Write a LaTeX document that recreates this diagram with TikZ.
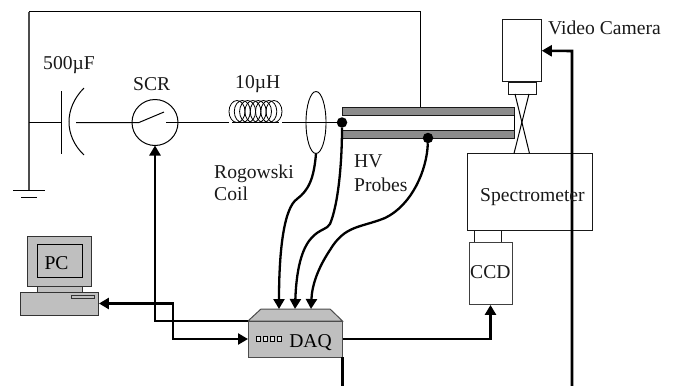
\documentclass[tikz,border=0pt]{standalone}
\usepackage{fontspec}
\setmainfont{Liberation Serif}
\usetikzlibrary{arrows.meta,shapes.geometric}
\tikzset{
  x=1pt,y=-1pt,
  wire/.style={line width=1pt,black},
  heavy/.style={line width=2.6pt,black,line join=miter},
  tip/.style={-{Triangle[length=10pt,width=11pt]}},
  twotip/.style={{Triangle[length=10pt,width=11pt]}-{Triangle[length=10pt,width=11pt]}},
  probe/.style={line width=2.3pt,black,-{Triangle[length=10pt,width=11pt]}},
  lbl/.style={inner sep=0pt,font=\fontsize{19.6}{22}\selectfont,text=black!90,anchor=base west},
  box/.style={draw=black!90,line width=1pt,inner sep=0pt,outer sep=0pt,minimum width=#1},
  box/.default=10pt,
  graybox/.style={draw=black!80,line width=1pt,fill=black!25,inner sep=0pt,outer sep=0pt},
  plate/.style={draw=black!90,line width=1pt,fill=black!45},
  dot/.style={circle,fill=black,inner sep=0pt,minimum size=10.5pt,outer sep=0pt}
}
\begin{document}
\begin{tikzpicture}
\useasboundingbox (0,0) rectangle (673,386);

% --- coordinates
\coordinate (gnd) at (29,189.5);
\coordinate (topL) at (29,11.5);
\coordinate (topR) at (420.5,11.5);
\coordinate (tap) at (420.5,107);
\coordinate (busL) at (29,122.5);
\coordinate (capL) at (61,122.5);
\coordinate (capR) at (76,122.5);
\coordinate (coilL) at (229,122.5);
\coordinate (coilR) at (282,122.5);
\coordinate (daqTL) at (248,321);
\coordinate (daqEast) at (342.5,339);
\coordinate (daqDown) at (342.5,386);
\coordinate (camDown) at (572,386);

% --- power circuit
\draw[wire,line width=1.3pt,black!70] (gnd) -- (topL);
\draw[wire] (topL) -- (topR) -- (tap);
\draw[wire] (busL) -- (capL);
\draw[wire] (61.5,91) -- (61.5,154);
\draw[wire] (84,88) .. controls (64,108) and (64,136) .. (84,155);
\draw[wire] (13,190.5) -- (45,190.5);
\draw[wire] (21,197.5) -- (37,197.5);

% --- SCR
\node[circle,draw=black,line width=1pt,minimum size=46pt,inner sep=0pt,outer sep=0pt] (scr) at (155,122.5) {};
\draw[wire] (capR) -- (scr.west) -- (139,122.5) -- (164,112);
\draw[wire] (166,122.5) -- (scr.east) -- (coilL);

% --- inductor
\foreach \cx in {237,242.3,247.6,252.9,258.2,263.5,268.8,274}
  \draw[wire,line width=0.8pt] (\cx,111.5) ellipse [x radius=8,y radius=11];
\draw[wire,line width=0.8pt] (232,122.5) -- (279,122.5);

% --- tube
\draw[plate] (342,107) rectangle (514,115);
\draw[plate] (342,130) rectangle (514,138);
\draw[wire] (514,115) -- (514,130);
\node[dot] (pa) at (342,122.5) {};
\node[dot] (pb) at (428,138) {};
\draw[wire] (coilR) -- (pa);

% --- Rogowski coil
\node[ellipse,draw=black,line width=0.9pt,minimum width=20pt,minimum height=62pt,inner sep=0pt,outer sep=0pt] (rog) at (316,122.5) {};

% --- camera
\node[box,minimum width=39pt,minimum height=62.5pt] (cam) at (522.3,50.7) {};
\node[box,minimum width=28pt,minimum height=12pt] (lens) at (522.5,88) {};
\node[box,minimum width=125pt,minimum height=77.5pt] (spec) at (529.5,192.2) {};
\node[box,minimum width=27.5pt,minimum height=11.5pt] (port) at (488.2,236.7) {};
\node[box,draw=black!75,minimum width=43pt,minimum height=62.5pt] (ccd) at (490.5,273.7) {};
\draw[wire] (515,94) -- (529.5,153.5);
\draw[wire] (529,94) -- (514,153.5);

% --- PC
\node[graybox,minimum width=63.5pt,minimum height=49.5pt] (mon) at (59.7,261.5) {};
\node[graybox,draw=black,minimum width=45pt,minimum height=32.5pt] (scrn) at (60,261.2) {};
\node[graybox,minimum width=45pt,minimum height=6pt] (neck) at (60,289) {};
\node[graybox,minimum width=78.5pt,minimum height=23pt] (base) at (59.7,303.5) {};
\node[graybox,minimum width=23pt,minimum height=3pt] (slot) at (82.5,297) {};
\node[inner sep=0pt,anchor=base] (pclbl) at (56.5,269) {\fontsize{19.6}{22}\selectfont PC};

% --- DAQ
\path[graybox,draw=black!70] (daqTL) -- (261,309) -- (330,309) -- (342.5,321) -- cycle;
\node[graybox,draw=black!70,minimum width=94.5pt,minimum height=36pt,anchor=north west] (daq) at (daqTL) {};
\foreach \sx in {258,265,272,279}
  \draw[black,line width=0.9pt,fill=black!10] (\sx-1.7,336.5) rectangle (\sx+2,341);
\node[inner sep=0pt,anchor=base] (daqlbl) at (310.5,347) {\fontsize{19.6}{22}\selectfont DAQ};

% --- signal lines
\draw[heavy,tip] (daq.north west) -- (155,321) -- (scr.south);
\draw[heavy,twotip] (base.east) -- (173,303.5) -- (173,339) -- (daq.west);
\draw[heavy,tip] (daq.east) -- (490.5,339) -- (ccd.south);
\draw[heavy,tip] (camDown) -- (572,51) -- (cam.east);
\draw[heavy] (daqEast |- daq.south) -- (daqDown);

% --- probes
\draw[probe] (rog.south) .. controls (314,178) and (309,190) .. (297,199)
   .. controls (284,208) and (279,250) .. (279,309);
\draw[probe] (pa) .. controls (342,165) and (338,205) .. (330,224)
   .. controls (325,234) and (298,225) .. (295,309);
\draw[probe] (pb) .. controls (427,170) and (412,205) .. (385,218)
   .. controls (360,228) and (345,225) .. (330,250)
   .. controls (318,268) and (312,285) .. (311,309);

% --- labels
\node[lbl] (t1) at (43,69) {500µF};
\node[lbl] (t2) at (133,90) {SCR};
\node[lbl] (t3) at (235,88.5) {10µH};
\node[lbl] (t4) at (214,178) {Rogowski};
\node[lbl] (t5) at (214,200) {Coil};
\node[lbl] (t6) at (354,167) {HV};
\node[lbl] (t7) at (354,191) {Probes};
\node[lbl] (t8) at (548,34) {Video Camera};
\node[lbl] (t9) at (480,201) {Spectrometer};
\node[lbl] (t10) at (470,278) {CCD};
\end{tikzpicture}
\end{document}
